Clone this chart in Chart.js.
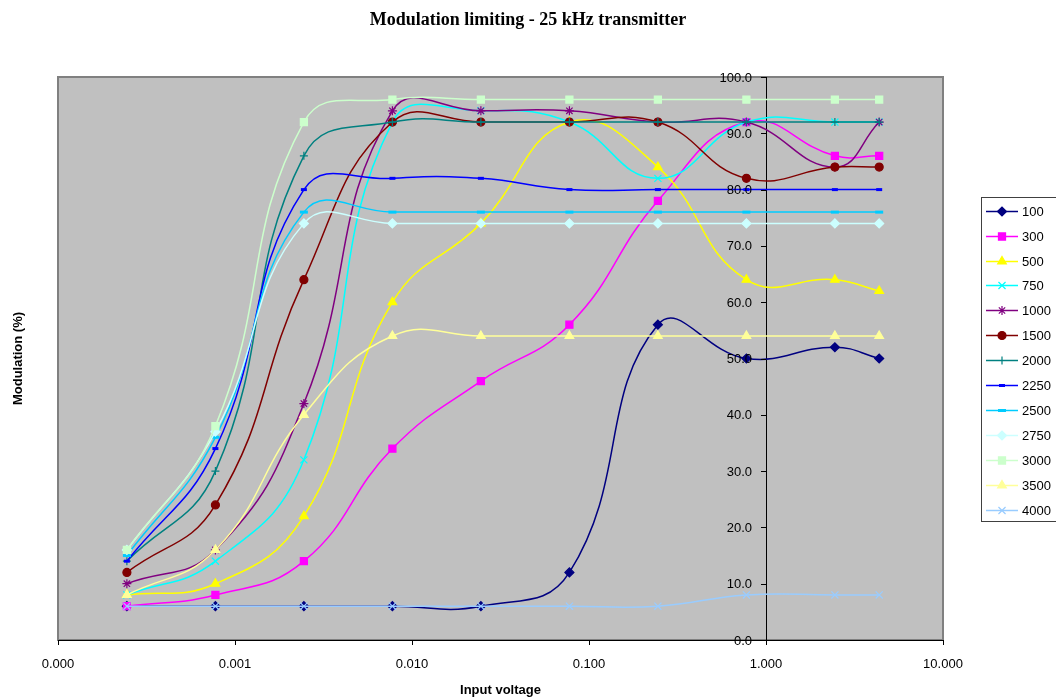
<!DOCTYPE html>
<html>
<head>
<meta charset="utf-8">
<script src="https://cdn.jsdelivr.net/npm/chart.js@4.4.0/dist/chart.umd.min.js"></script>
<style>
  html, body { margin: 0; padding: 0; background: #fff; }
  #wrap { width: 1056px; height: 700px; position: relative; }
</style>
</head>
<body>
<div id="wrap"><canvas id="modChart"></canvas></div>
<script>
// input voltage (V) for each measurement
const inputVoltage = [0.000245, 0.000775, 0.00245, 0.00775, 0.0245, 0.0775, 0.245, 0.775, 2.45, 4.36];
const xTicks = [0.0001, 0.001, 0.01, 0.1, 1, 10];
const yTicks = [0, 10, 20, 30, 40, 50, 60, 70, 80, 90, 100];

// modulation (%) per audio frequency (Hz)
const seriesNames = ['100', '300', '500', '750', '1000', '1500', '2000', '2250', '2500', '2750', '3000', '3500', '4000'];
const mod100  = [6, 6, 6, 6, 6, 12, 56, 50, 52, 50];
const mod300  = [6, 8, 14, 34, 46, 56, 78, 92, 86, 86];
const mod500  = [8, 10, 22, 60, 74, 92, 84, 64, 64, 62];
const mod750  = [8, 14, 32, 92, 94, 92, 82, 92, 92, 92];
const mod1000 = [10, 16, 42, 94, 94, 94, 92, 92, 84, 92];
const mod1500 = [12, 24, 64, 92, 92, 92, 92, 82, 84, 84];
const mod2000 = [14, 30, 86, 92, 92, 92, 92, 92, 92, 92];
const mod2250 = [14, 34, 80, 82, 82, 80, 80, 80, 80, 80];
const mod2500 = [15, 36, 76, 76, 76, 76, 76, 76, 76, 76];
const mod2750 = [16, 37, 74, 74, 74, 74, 74, 74, 74, 74];
const mod3000 = [16, 38, 92, 96, 96, 96, 96, 96, 96, 96];
const mod3500 = [8, 16, 40, 54, 54, 54, 54, 54, 54, 54];
const mod4000 = [6, 6, 6, 6, 6, 6, 6, 8, 8, 8];

const seriesValues = [mod100, mod300, mod500, mod750, mod1000, mod1500, mod2000,
                      mod2250, mod2500, mod2750, mod3000, mod3500, mod4000];

// excel-ish look for each series
const styles = [
  { color: '#000080', point: 'rectRot',  r: 4.5 },
  { color: '#FF00FF', point: 'rect',     r: 5 },
  { color: '#FFFF00', point: 'triangle', r: 5 },
  { color: '#00FFFF', point: 'crossRot', r: 5 },
  { color: '#800080', point: 'star',     r: 4.5 },
  { color: '#800000', point: 'circle',   r: 4 },
  { color: '#008080', point: 'cross',    r: 4 },
  { color: '#0000FF', point: 'line',     r: 3, bw: 3 },
  { color: '#00CCFF', point: 'line',     r: 4, bw: 3 },
  { color: '#CCFFFF', point: 'rectRot',  r: 4.5 },
  { color: '#CCFFCC', point: 'rect',     r: 5 },
  { color: '#FFFF99', point: 'triangle', r: 5 },
  { color: '#99CCFF', point: 'crossRot', r: 5 }
];

const datasets = seriesNames.map((name, i) => ({
  label: name,
  data: inputVoltage.map((v, j) => ({ x: v, y: seriesValues[i][j] })),
  borderColor: styles[i].color,
  backgroundColor: styles[i].color,
  borderWidth: 1.5,
  tension: 0.45,
  pointStyle: styles[i].point,
  pointRadius: styles[i].r,
  pointBorderWidth: styles[i].bw || 1.2,
  pointBackgroundColor: styles[i].color,
  pointBorderColor: styles[i].color,
  order: -i   // later series on top, like excel
}));

const FONT = 'Arial, "Liberation Sans", sans-serif';

const plotDeco = {
  id: 'plotDeco',
  beforeDraw(chart) {
    const { ctx, chartArea: a } = chart;
    ctx.save();
    ctx.fillStyle = '#C0C0C0';
    ctx.fillRect(a.left, a.top, a.right - a.left, a.bottom - a.top);
    ctx.strokeStyle = '#808080';
    ctx.lineWidth = 2;
    ctx.strokeRect(a.left, a.top, a.right - a.left, a.bottom - a.top);
    ctx.restore();
  },
  afterDraw(chart) {
    const { ctx, chartArea: a, scales } = chart;
    ctx.save();
    ctx.fillStyle = '#000';
    ctx.textAlign = 'center';
    ctx.textBaseline = 'middle';
    ctx.font = 'bold 18px "Times New Roman", "Liberation Serif", serif';
    ctx.fillText('Modulation limiting - 25 kHz transmitter', 528, 20);

    ctx.font = 'bold 13px ' + FONT;
    ctx.fillText('Input voltage', (a.left + a.right) / 2, 690);

    // y tick labels, left of the axis that crosses at x = 1
    const axisX = scales.x.getPixelForValue(1);
    ctx.font = '13px ' + FONT;
    ctx.textAlign = 'right';
    scales.y.ticks.forEach(t => {
      ctx.fillText(Number(t.value).toFixed(1), axisX - 14, scales.y.getPixelForValue(t.value) + 1);
    });
    ctx.strokeStyle = '#000';
    ctx.lineWidth = 1;
    scales.y.ticks.forEach(t => {
      const py = Math.round(scales.y.getPixelForValue(t.value)) + 0.5;
      ctx.beginPath();
      ctx.moveTo(axisX - 5, py);
      ctx.lineTo(axisX, py);
      ctx.stroke();
    });

    ctx.font = 'bold 13px ' + FONT;
    ctx.textAlign = 'center';
    ctx.translate(18, (a.top + a.bottom) / 2);
    ctx.rotate(-Math.PI / 2);
    ctx.fillText('Modulation (%)', 0, 0);
    ctx.restore();

    // legend box
    ctx.save();
    ctx.fillStyle = '#fff';
    ctx.fillRect(981, 197, 90, 325);
    ctx.strokeStyle = '#404040';
    ctx.lineWidth = 1;
    ctx.strokeRect(981.5, 197.5, 90, 324);
    ctx.font = '13px ' + FONT;
    ctx.textAlign = 'left';
    ctx.textBaseline = 'middle';
    chart.data.datasets.forEach((ds, i) => {
      const y = Math.round(210.7 + i * 24.93) + 0.5;
      ctx.strokeStyle = ds.borderColor;
      ctx.lineWidth = 1.5;
      ctx.beginPath();
      ctx.moveTo(986, y);
      ctx.lineTo(1018, y);
      ctx.stroke();
      ctx.fillStyle = ds.pointBackgroundColor;
      ctx.strokeStyle = ds.pointBorderColor;
      ctx.lineWidth = ds.pointBorderWidth;
      Chart.helpers.drawPoint(ctx, { pointStyle: ds.pointStyle, radius: ds.pointRadius, rotation: 0, borderWidth: ds.pointBorderWidth }, 1002, y);
      ctx.fillStyle = '#000';
      ctx.fillText(ds.label, 1022, y + 0.5);
    });
    ctx.restore();
  }
};

new Chart(document.getElementById('modChart'), {
  type: 'line',
  data: { datasets: datasets },
  options: {
    responsive: true,
    maintainAspectRatio: false,
    animation: false,
    layout: { padding: { left: 58, right: 113, top: 77, bottom: 0 } },
    plugins: {
      legend: { display: false },
      title: { display: false },
      tooltip: { enabled: false }
    },
    scales: {
      x: {
        type: 'logarithmic',
        position: 'bottom',
        min: 0.0001,
        max: 10,
        afterBuildTicks: (axis) => { axis.ticks = xTicks.map(v => ({ value: v })); },
        afterFit: (axis) => { axis.height = 60; },
        ticks: {
          autoSkip: false,
          maxRotation: 0,
          padding: 12,
          color: '#000',
          font: { family: FONT, size: 13 },
          callback: (v) => Number(v).toFixed(3)
        },
        grid: { drawOnChartArea: false, drawTicks: true, tickLength: 5, color: '#000' },
        border: { color: '#000', width: 1 }
      },
      y: {
        type: 'linear',
        position: { x: 1 },
        min: 0,
        max: 100,
        afterBuildTicks: (axis) => { axis.ticks = yTicks.map(v => ({ value: v })); },
        ticks: { display: false },
        grid: { drawOnChartArea: false, drawTicks: false },
        border: { color: '#000', width: 1 }
      }
    }
  },
  plugins: [plotDeco]
});
</script>
</body>
</html>
